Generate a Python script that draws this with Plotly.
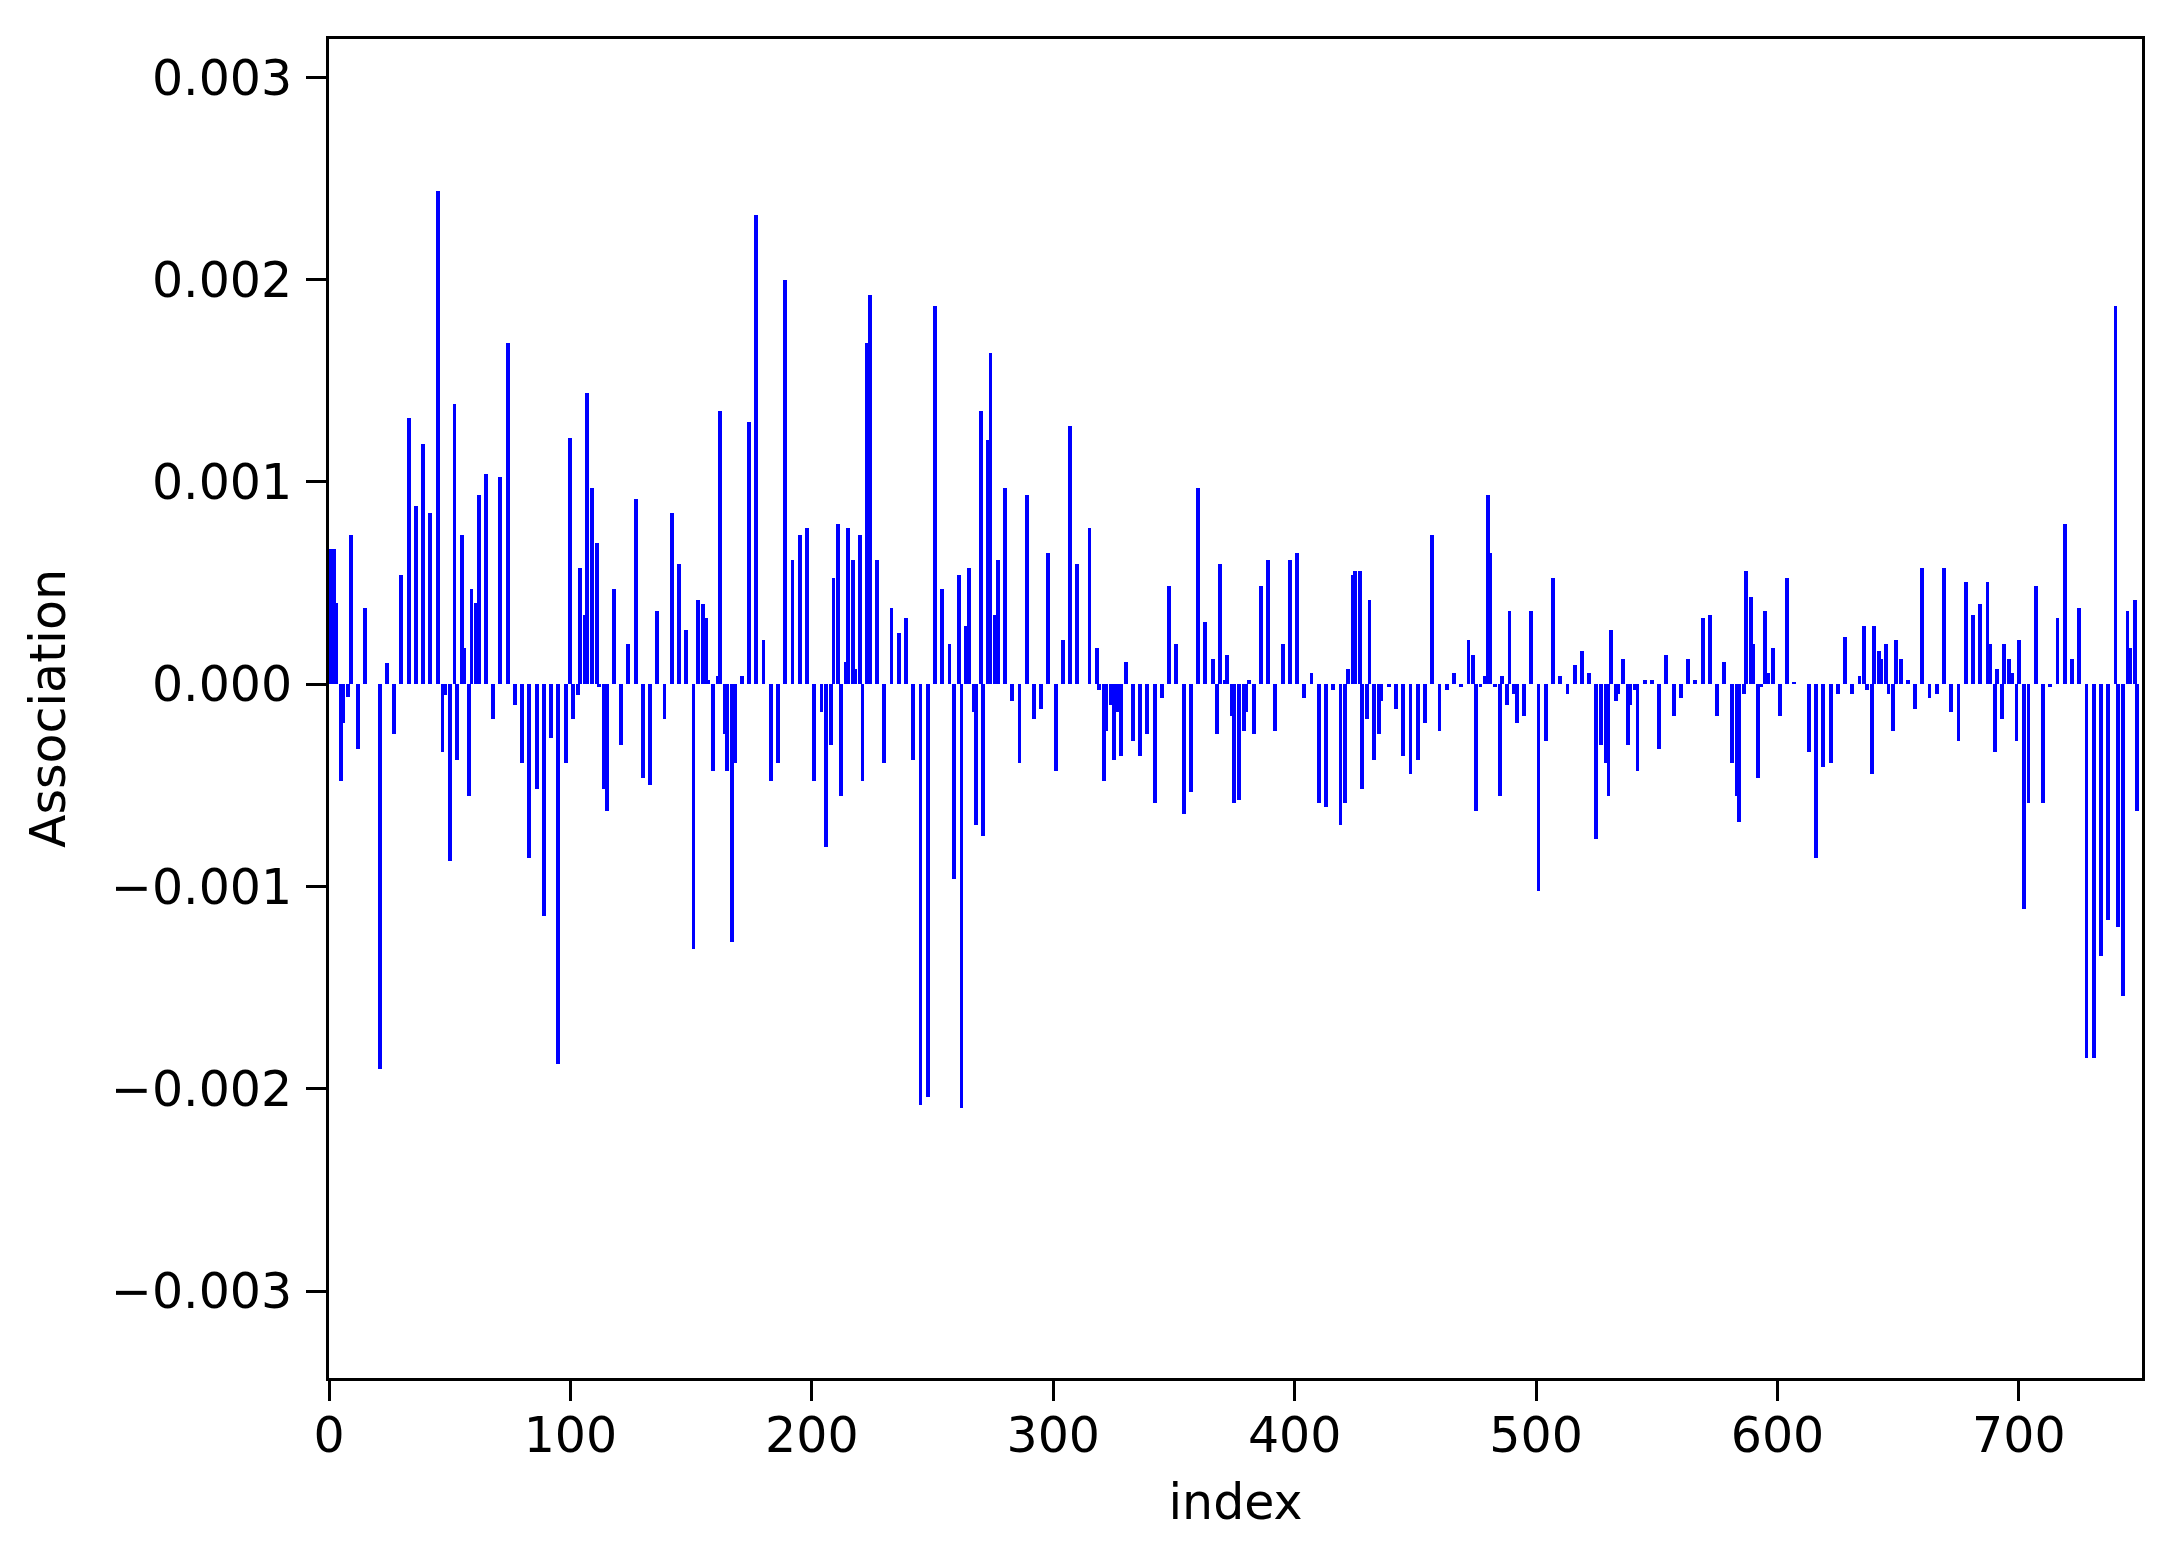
import plotly.graph_objects as go

# bar positions (index) and association values
idx = [1, 2, 3, 5, 6, 8, 9, 12, 15, 21, 24, 27, 30, 33, 36, 39, 42, 45, 47, 48, 50, 52, 53, 55, 56, 58, 59, 61, 62, 65, 68, 71, 74,
       77, 80, 83, 86, 89, 92, 95, 98, 100, 101, 103, 104, 106, 107, 109, 111, 112, 114, 115, 118, 121, 124, 127, 130, 133, 136, 139, 142, 145, 148, 151,
       153, 155, 156, 157, 159, 161, 162, 164, 165, 167, 168, 171, 174, 177, 180, 183, 186, 189, 192, 195, 198, 201, 204, 206, 208, 209, 211, 212, 214, 215, 217, 218, 220, 221, 223, 224, 227,
       230, 233, 236, 239, 242, 245, 248, 251, 254, 257, 259, 261, 262, 264, 265, 267, 268, 270, 271, 273, 274, 276, 277, 280, 283, 286, 289, 292, 295, 298, 301,
       304, 307, 310, 315, 318, 319, 321, 322, 324, 325, 327, 328, 330, 333, 336, 339, 342, 345, 348, 351, 354, 357, 360, 363, 366, 368, 369, 371, 372, 374, 375, 377, 379,
       380, 381, 383, 386, 389, 392, 395, 398, 401, 404, 407, 410, 413, 416, 419, 421, 422, 424, 425, 427, 428, 430, 431, 433, 435, 436, 439, 442, 445, 448, 451, 454,
       457, 460, 463, 466, 469, 472, 474, 475, 477, 479, 480, 481, 483, 485, 486, 488, 489, 491, 492, 495, 498, 501, 504, 507, 510, 513, 516, 519, 522, 525, 527, 529, 530,
       531, 533, 534, 536, 538, 539, 541, 542, 545, 548, 551, 554, 557, 560, 563, 566, 569, 572, 575, 578, 581, 583, 584, 586, 587, 589, 590, 592, 593, 595, 596, 598, 601, 604,
       607, 613, 616, 619, 622, 625, 628, 631, 634, 636, 637, 639, 640, 642, 643, 645, 646, 648, 649, 651, 654, 657, 660, 663, 666, 669, 672, 675, 678, 681,
       684, 687, 688, 690, 691, 693, 694, 696, 697, 699, 700, 702, 704, 707, 710, 713, 716, 719, 722, 725, 728, 731, 734, 737, 740, 741, 743, 745, 746, 748, 749]

assoc = [0.000668, 0.000668, 0.000400, -0.000480, -0.000190, -0.000063, 0.000737, -0.000320, 0.000376, -0.001900, 0.000105, -0.000244, 0.000540, 0.001314, 0.000880, 0.001188, 0.000845, 0.002440, -0.000334, -0.000054, -0.000875, 0.001383, -0.000373, 0.000737, 0.000180, -0.000553, 0.000470, 0.000400, 0.000935, 0.001040, -0.000174, 0.001026, 0.001687,
         -0.000102, -0.000390, -0.000857, -0.000517, -0.001146, -0.000265, -0.001879, -0.000390, 0.001218, -0.000174, -0.000054, 0.000577, 0.000343, 0.001440, 0.000971, 0.000700, -0.000012, -0.000517, -0.000625, 0.000470, -0.000300, 0.000198, 0.000917, -0.000463, -0.000500, 0.000360, -0.000174, 0.000845, 0.000595, 0.000270, -0.001308,
         0.000415, 0.000397, 0.000325, 0.000020, -0.000427, 0.000039, 0.001350, -0.000247, -0.000427, -0.001272, -0.000390, 0.000039, 0.001296, 0.002319, 0.000217, -0.000480, -0.000390, 0.001997, 0.000614, 0.000740, 0.000773, -0.000480, -0.000138, -0.000803, -0.000300, 0.000523, 0.000790, -0.000553, 0.000108, 0.000773, 0.000614, 0.000075, 0.000740, -0.000480, 0.001687, 0.001925, 0.000614,
         -0.000390, 0.000379, 0.000253, 0.000325, -0.000373, -0.002078, -0.002042, 0.001870, 0.000470, 0.000198, -0.000965, 0.000541, -0.002096, 0.000289, 0.000577, -0.000138, -0.000698, 0.001350, -0.000749, 0.001206, 0.001636, 0.000343, 0.000614, 0.000971, -0.000084, -0.000390, 0.000935, -0.000174, -0.000120, 0.000650, -0.000427,
         0.000217, 0.001278, 0.000595, 0.000773, 0.000180, -0.000030, -0.000480, -0.000229, -0.000102, -0.000373, -0.000138, -0.000355, 0.000108, -0.000283, -0.000355, -0.000247, -0.000589, -0.000066, 0.000487, 0.000198, -0.000644, -0.000535, 0.000971, 0.000307, 0.000126, -0.000247, 0.000595, 0.000020, 0.000144, -0.000156, -0.000589, -0.000571, -0.000229,
         -0.000138, 0.000020, -0.000247, 0.000487, 0.000614, -0.000229, 0.000198, 0.000614, 0.000650, -0.000066, 0.000057, -0.000589, -0.000607, -0.000030, -0.000698, -0.000589, 0.000075, 0.000541, 0.000560, 0.000560, -0.000517, -0.000174, 0.000415, -0.000373, -0.000247, -0.000084, -0.000012, -0.000120, -0.000355, -0.000445, -0.000373, -0.000192,
         0.000740, -0.000229, -0.000030, 0.000057, -0.000012, 0.000217, 0.000144, -0.000625, -0.000012, 0.000039, 0.000935, 0.000650, -0.000012, -0.000553, 0.000039, -0.000102, 0.000360, -0.000048, -0.000192, -0.000156, 0.000360, -0.001020, -0.000283, 0.000523, 0.000039, -0.000048, 0.000093, 0.000162, 0.000057, -0.000767, -0.000300, -0.000390, -0.000553,
         0.000270, -0.000084, -0.000048, 0.000126, -0.000300, -0.000102, -0.000030, -0.000427, 0.000020, 0.000020, -0.000320, 0.000144, -0.000156, -0.000066, 0.000126, 0.000020, 0.000325, 0.000343, -0.000156, 0.000108, -0.000390, -0.000553, -0.000680, -0.000048, 0.000560, 0.000433, 0.000198, -0.000463, -0.000012, 0.000360, 0.000057, 0.000180, -0.000156, 0.000523,
         0.000012, -0.000337, -0.000857, -0.000409, -0.000390, -0.000048, 0.000235, -0.000048, 0.000039, 0.000289, -0.000030, -0.000445, 0.000289, 0.000162, 0.000126, 0.000198, -0.000048, -0.000229, 0.000217, 0.000126, 0.000020, -0.000120, 0.000577, -0.000066, -0.000048, 0.000577, -0.000138, -0.000283, 0.000505, 0.000343,
         0.000397, 0.000505, 0.000198, -0.000337, 0.000075, -0.000174, 0.000198, 0.000126, 0.000057, -0.000283, 0.000217, -0.001110, -0.000589, 0.000487, -0.000589, -0.000012, 0.000325, 0.000790, 0.000126, 0.000379, -0.001847, -0.001847, -0.001344, -0.001164, 0.001870, -0.001200, -0.001540, 0.000360, 0.000180, 0.000415, -0.000625]

x_ticks = [0, 100, 200, 300, 400, 500, 600, 700]
y_ticks = [-0.003, -0.002, -0.001, 0.0, 0.001, 0.002, 0.003]
y_tick_labels = ["\u22120.003", "\u22120.002", "\u22120.001", "0.000", "0.001", "0.002", "0.003"]

FONT = "DejaVu Sans"
FS = 49

fig = go.Figure(go.Bar(
    x=idx, y=assoc, width=1.6,
    marker=dict(color="#0000ff", line=dict(width=0)),
))

axis_common = dict(
    showline=True, linecolor="black", linewidth=3, mirror=True,
    ticks="outside", ticklen=20, tickwidth=3, tickcolor="black",
    showgrid=False, zeroline=False,
    tickfont=dict(family=FONT, size=FS, color="black"),
)

fig.update_layout(
    width=2169, height=1550, autosize=False,
    margin=dict(l=321, r=35, t=31, b=180),
    paper_bgcolor="white", plot_bgcolor="white",
    showlegend=False, bargap=0,
    xaxis=dict(range=[0, 751], tickvals=x_ticks, ticktext=[str(t) for t in x_ticks],
               ticklabelstandoff=-8,
               title=dict(text="index", font=dict(family=FONT, size=FS, color="black"), standoff=22),
               **axis_common),
    yaxis=dict(range=[-0.00343, 0.00319], tickvals=y_ticks, ticktext=y_tick_labels,
               ticklabelstandoff=4,
               title=dict(text="Association", font=dict(family=FONT, size=FS, color="black"), standoff=30),
               **axis_common),
)

fig.write_html("out.html")
